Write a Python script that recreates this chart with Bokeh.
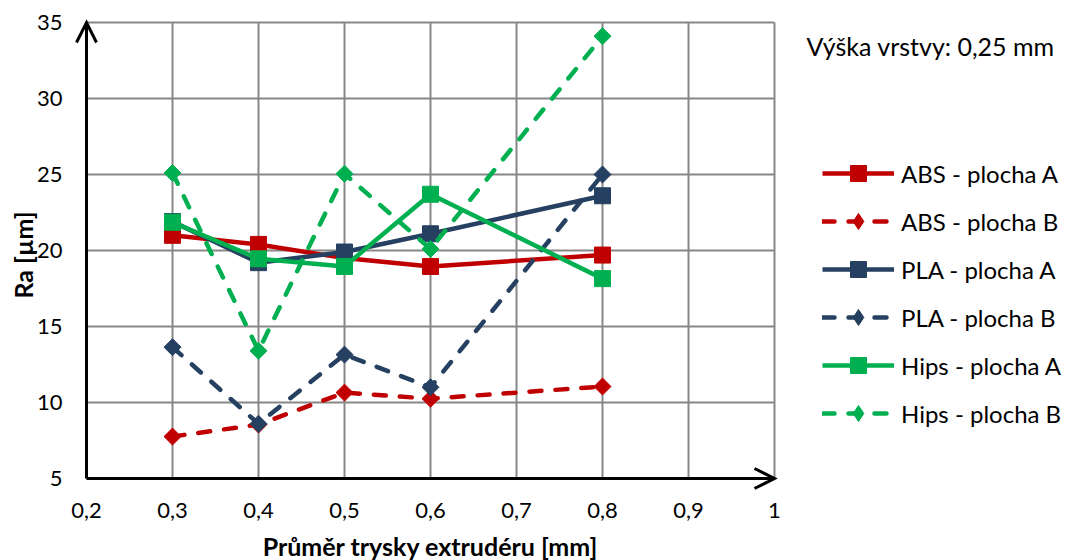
from bokeh.plotting import figure
from bokeh.models import Legend, LegendItem, Label
from bokeh.core.properties import value
from bokeh.embed import file_html
from bokeh.resources import INLINE
import numpy as np

# ---- data ----
x_vals = [0.3, 0.4, 0.5, 0.6, 0.8]
abs_a = [21.0, 20.4, 19.5, 18.95, 19.7]
abs_b = [7.76, 8.55, 10.65, 10.25, 11.05]
pla_a = [21.9, 19.2, 19.9, 21.1, 23.6]
pla_b = [13.64, 8.6, 13.15, 11.0, 25.0]
hips_a = [21.86, 19.45, 18.95, 23.7, 18.15]
hips_b = [25.1, 13.4, 25.05, 20.1, 34.1]

x_ticks = [0.2, 0.3, 0.4, 0.5, 0.6, 0.7, 0.8, 0.9, 1.0]
x_tick_labels = ["0,2", "0,3", "0,4", "0,5", "0,6", "0,7", "0,8", "0,9", "1"]
y_ticks = [5, 10, 15, 20, 25, 30, 35]
y_tick_labels = ["5", "10", "15", "20", "25", "30", "35"]

series = [
    ("ABS - plocha A", abs_a, "#C00000", "solid"),
    ("ABS - plocha B", abs_b, "#C00000", "dashed"),
    ("PLA - plocha A", pla_a, "#254061", "solid"),
    ("PLA - plocha B", pla_b, "#254061", "dashed"),
    ("Hips - plocha A", hips_a, "#00B050", "solid"),
    ("Hips - plocha B", hips_b, "#00B050", "dashed"),
]

FONT = "Lato"
W, H = 1066, 560

# ---- layout (pixels) ----
XMIN, XMAX = x_ticks[0], x_ticks[-1]
YMIN, YMAX = y_ticks[0], y_ticks[-1]
AREA_L, AREA_R, AREA_T, AREA_B = 86, 774, 22, 478      # plot area in pixels
PX_X = (AREA_R - AREA_L) / (XMAX - XMIN)
PX_Y = (AREA_B - AREA_T) / (YMAX - YMIN)


def sx(px):   # pixel column -> data x
    return XMIN + (px - AREA_L) / PX_X


def sy(py):   # pixel row -> data y
    return YMIN + (AREA_B - py) / PX_Y


p = figure(width=W, height=H, x_range=(sx(0), sx(W)), y_range=(sy(H), sy(0)),
           x_axis_type=None, y_axis_type=None,
           output_backend="svg", toolbar_location=None,
           min_border_left=0, min_border_right=0, min_border_top=0,
           min_border_bottom=0)
p.outline_line_color = None
p.background_fill_color = "white"
p.grid.visible = False

# grid lines limited to the plot area
p.segment(x0=x_ticks[1:], y0=[YMIN] * (len(x_ticks) - 1),
          x1=x_ticks[1:], y1=[YMAX] * (len(x_ticks) - 1),
          line_color="#878787", line_width=2)
p.segment(x0=[XMIN] * (len(y_ticks) - 1), y0=y_ticks[1:],
          x1=[XMAX] * (len(y_ticks) - 1), y1=y_ticks[1:],
          line_color="#878787", line_width=2)

# tick labels
p.text(x=x_ticks, y=[sy(510)] * len(x_ticks), text=x_tick_labels,
       text_font=value(FONT), text_font_size="22px", text_align="center",
       text_baseline="middle", text_color="black")
p.text(x=[sx(62)] * len(y_ticks), y=y_ticks, text=y_tick_labels,
       text_font=value(FONT), text_font_size="22px", text_align="right",
       text_baseline="middle", text_color="black")

# axis titles
p.add_layout(Label(x=(XMIN + XMAX) / 2, y=sy(545), text="Průměr trysky extrudéru [mm]",
                   text_font=FONT, text_font_size="25px", text_font_style="bold",
                   text_align="center", text_baseline="middle", text_color="black"))
p.add_layout(Label(x=sx(22), y=(YMIN + YMAX) / 2 - 0.3, text="Ra [µm]", angle=np.pi / 2,
                   text_font=FONT, text_font_size="25px", text_font_style="bold",
                   text_align="center", text_baseline="middle", text_color="black"))

items = []
for name, vals, color, style in series:
    if style == "solid":
        ln = p.line(x_vals, vals, line_color=color, line_width=4.5, line_join="round")
        mk = p.scatter(x_vals, vals, marker="square", size=16, fill_color=color,
                       line_color=color)
        items.append(LegendItem(label=name, renderers=[ln, mk]))
    else:
        ln = p.line(x_vals, vals, line_color=color, line_width=4.5, line_dash="12 14",
                    line_cap="round", line_join="round")
        # diamond used for the legend symbol (covered in the plot by the rotated square)
        dm = p.scatter(x_vals, vals, marker="diamond", size=11, fill_color=color,
                       line_color=color)
        p.scatter(x_vals, vals, marker="square", angle=np.pi / 4, size=12,
                  fill_color=color, line_color=color)
        items.append(LegendItem(label=name, renderers=[ln, dm]))

# axis lines with open arrow heads
p.segment(x0=[XMIN, XMIN], y0=[YMIN, YMIN], x1=[XMIN, XMAX], y1=[YMAX, YMIN],
          line_color="black", line_width=3)
hw, hl = 10, 20
p.line([XMIN - hw / PX_X, XMIN, XMIN + hw / PX_X],
       [YMAX - hl / PX_Y, YMAX, YMAX - hl / PX_Y],
       line_color="black", line_width=3, line_join="miter")
p.line([XMAX - hl / PX_X, XMAX, XMAX - hl / PX_X],
       [YMIN + hw / PX_Y, YMIN, YMIN - hw / PX_Y],
       line_color="black", line_width=3, line_join="miter")

legend = Legend(items=items, location=(822, 127))
legend.border_line_color = None
legend.background_fill_alpha = 0
legend.margin = 0
legend.padding = 0
legend.glyph_width = 72
legend.glyph_height = 40
legend.label_height = 40
legend.spacing = 8
legend.label_standoff = 7
legend.label_text_font = FONT
legend.label_text_font_size = "24px"
legend.label_text_color = "black"
p.add_layout(legend)

p.add_layout(Label(x=sx(806), y=sy(45), text="Výška vrstvy: 0,25 mm",
                   text_font=FONT, text_font_size="25px", text_baseline="middle",
                   text_color="black"))

open("out.html", "w").write(file_html(p, INLINE))
